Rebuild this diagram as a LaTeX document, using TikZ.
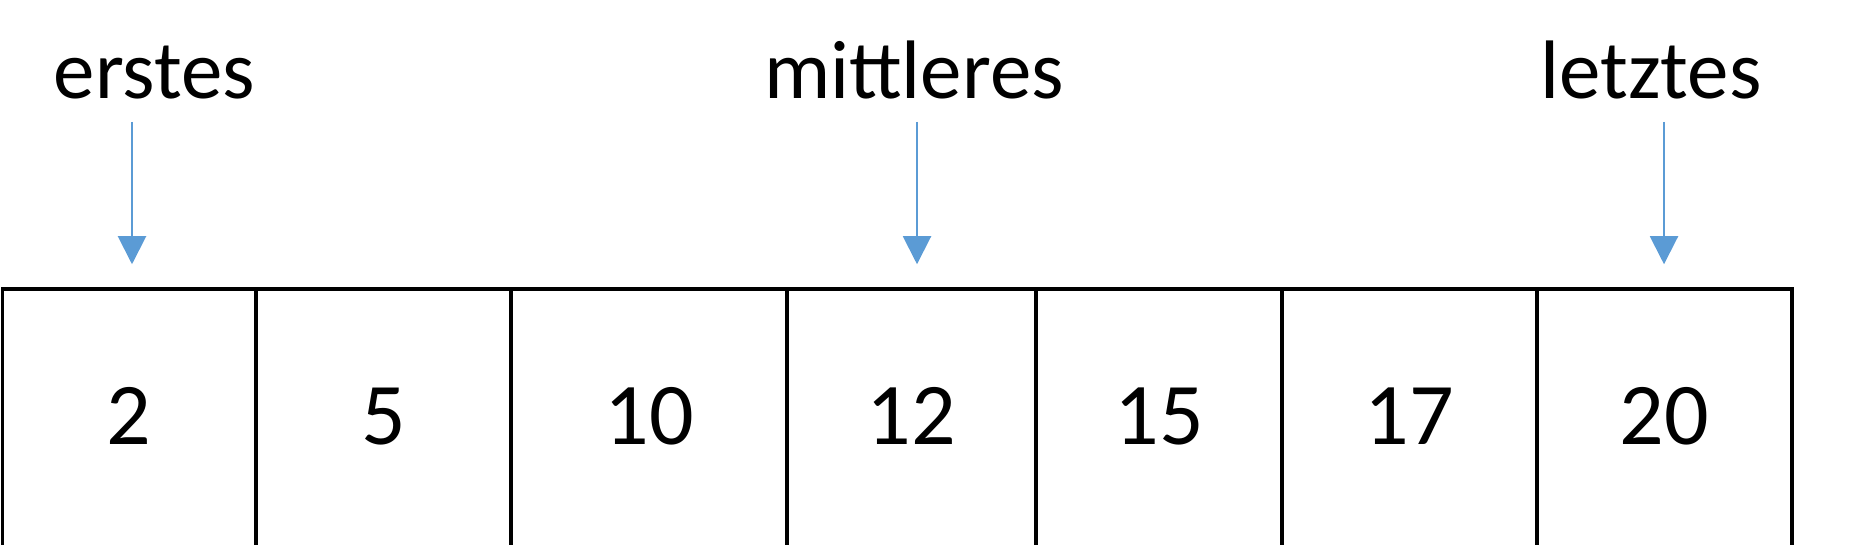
\documentclass[tikz,border=0pt]{standalone}
\usepackage{fontspec}
\setmainfont{Carlito}
\usetikzlibrary{arrows.meta}
\definecolor{pointerblue}{HTML}{5B9BD5}
\begin{document}
\begin{tikzpicture}[x=1pt, y=1pt,
    cell/.style={draw, line width=3.5pt, inner sep=0pt, minimum height=262pt,
      font=\fontsize{88}{100}\selectfont},
    label/.style={anchor=base, inner sep=0pt, font=\fontsize{83}{100}\selectfont},
    ptr/.style={pointerblue, line width=2pt, shorten >=23pt,
      -{Triangle[length=28pt, width=28pt]}}]
    \useasboundingbox (0,0) rectangle (1876,544);
    \clip (0,0) rectangle (1876,544);
    % Drawing the cells of the sorted array
    \foreach \i/\v/\a/\b in {1/2/2.5/256, 2/5/256/511, 3/10/511/787, 4/12/787/1036,
        5/15/1036/1282, 6/17/1282/1537, 7/20/1537/1792}
      \node [cell, minimum width={\b pt-\a pt}] (c\i) at ({(\a+\b)/2},124)
        {\raisebox{8pt}{\v}};
    % Drawing the labels
    \node [label] (first) at (154.5,445) {erstes};
    \node [label] (middle) at (914,445) {mittleres};
    \node [label] (last) at (1651,445) {letztes};
    % Drawing the pointers
    \coordinate (p1) at (132,422);
    \coordinate (p4) at (917,422);
    \coordinate (p7) at (1664,422);
    \draw [ptr] (p1) -- (p1 |- c1.north);
    \draw [ptr] (p4) -- (p4 |- c4.north);
    \draw [ptr] (p7) -- (p7 |- c7.north);
\end{tikzpicture}
\end{document}
